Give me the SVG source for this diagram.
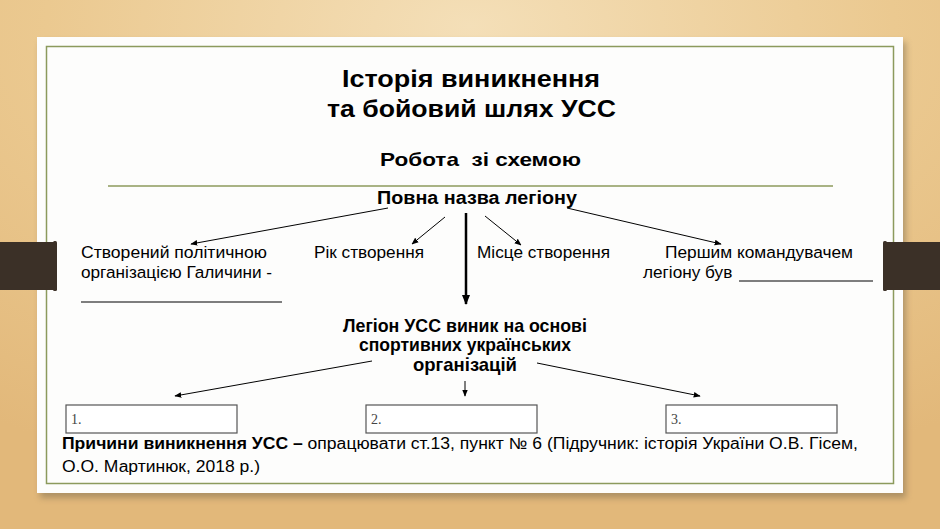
<svg xmlns="http://www.w3.org/2000/svg" width="940" height="529" viewBox="0 0 940 529">
<defs>
<radialGradient id="bg" cx="0.5" cy="0.05" r="0.9">
<stop offset="0" stop-color="#f4dfb8"/>
<stop offset="0.5" stop-color="#ebc990"/>
<stop offset="1" stop-color="#e2b87a"/>
</radialGradient>
<filter id="sh" x="-5%" y="-5%" width="110%" height="115%">
<feGaussianBlur stdDeviation="3"/>
</filter>
<marker id="ah" viewBox="0 0 10 10" refX="9" refY="5" markerWidth="7" markerHeight="7" orient="auto" markerUnits="userSpaceOnUse">
<path d="M0,1 L10,5 L0,9 z" fill="#000"/>
</marker>
<marker id="ahb" viewBox="0 0 10 10" refX="9" refY="5" markerWidth="4" markerHeight="4" orient="auto">
<path d="M0,1 L10,5 L0,9 z" fill="#000"/>
</marker>
</defs>
<style>
.t{font-family:"Liberation Sans",Arial,sans-serif;fill:#000}
.b{font-weight:bold}
.n{font-size:17.2px}
.m{font-size:17.8px}
.c{stroke:#000;stroke-width:1;fill:none;marker-end:url(#ah)}
.box{fill:#fff;stroke:#555;stroke-width:1.2}
.num{font-family:"Liberation Serif",serif;font-size:14px;fill:#444}
</style>
<rect width="940" height="529" fill="url(#bg)"/>
<rect x="40" y="42" width="866" height="456" fill="#7a6a50" opacity="0.5" filter="url(#sh)"/>
<rect x="37" y="37" width="866" height="456" fill="#fdfdfc"/>
<rect x="46.5" y="46.5" width="847" height="437" fill="none" stroke="#8c9a5c" stroke-width="1.5"/>
<g id="bars">
<rect x="0" y="242" width="55" height="48" fill="#3b3027"/>
<rect x="53" y="241" width="4" height="50" rx="1.5" fill="#3b3027"/>
<rect x="885" y="242" width="55" height="48" fill="#3b3027"/>
<rect x="883" y="241" width="4" height="50" rx="1.5" fill="#3b3027"/>
</g>
<g id="title">
<text class="t b" x="342" y="87" font-size="23.5" textLength="258" lengthAdjust="spacingAndGlyphs">Історія виникнення</text>
<text class="t b" x="327" y="117" font-size="23.5" textLength="289" lengthAdjust="spacingAndGlyphs">та бойовий шлях УСС</text>
</g>
<g id="subtitle">
<text class="t b" x="380" y="166" font-size="18.5" textLength="201" lengthAdjust="spacingAndGlyphs" xml:space="preserve">Робота  зі схемою</text>
</g>
<line x1="108" y1="186" x2="833" y2="186" stroke="#8c9a5c" stroke-width="1.3"/>
<g id="root">
<text class="t b" x="377" y="204" font-size="17.5" textLength="200" lengthAdjust="spacingAndGlyphs">Повна назва легіону</text>
</g>
<g id="n1">
<text class="t n" x="81" y="258" textLength="186" lengthAdjust="spacingAndGlyphs">Створений політичною</text>
<text class="t n" x="81" y="278">організацією Галичини -</text>
<line x1="81" y1="302" x2="282" y2="302" stroke="#000" stroke-width="1.2"/>
</g>
<g id="n2"><text class="t n" x="314" y="258">Рік створення</text></g>
<g id="n3"><text class="t n" x="477" y="258">Місце створення</text></g>
<g id="n4">
<text class="t n" x="665" y="258" textLength="188" lengthAdjust="spacingAndGlyphs">Першим командувачем</text>
<text class="t n" x="643" y="278">легіону був</text>
<line x1="739" y1="281" x2="873" y2="281" stroke="#000" stroke-width="1.2"/>
</g>
<g id="mid">
<text class="t b m" x="343" y="332" textLength="244" lengthAdjust="spacingAndGlyphs">Легіон УСС виник на основі</text>
<text class="t b m" x="359" y="351" textLength="212" lengthAdjust="spacingAndGlyphs">спортивних українських</text>
<text class="t b m" x="413" y="371" textLength="104" lengthAdjust="spacingAndGlyphs">організацій</text>
</g>
<g id="box1"><rect class="box" x="66" y="405" width="171" height="28"/><text class="num" x="71" y="424">1.</text></g>
<g id="box2"><rect class="box" x="366" y="405" width="171" height="28"/><text class="num" x="371" y="424">2.</text></g>
<g id="box3"><rect class="box" x="666" y="405" width="171" height="28"/><text class="num" x="671" y="424">3.</text></g>
<g id="note">
<text class="t" x="62" y="449" font-size="16" textLength="796" lengthAdjust="spacingAndGlyphs"><tspan class="b">Причини виникнення УСС –</tspan> опрацювати ст.13, пункт № 6 (Підручник: історія України О.В. Гісем,</text>
<text class="t" x="62" y="472" font-size="16" textLength="198" lengthAdjust="spacingAndGlyphs">О.О. Мартинюк, 2018 р.)</text>
</g>
<g id="connectors">
<line class="c" x1="388" y1="208" x2="191" y2="244"/>
<line class="c" x1="445" y1="217" x2="412" y2="244"/>
<line x1="466" y1="213" x2="466" y2="304" stroke="#000" stroke-width="2.5" marker-end="url(#ahb)"/>
<line class="c" x1="485" y1="216" x2="521" y2="245"/>
<line class="c" x1="567" y1="208" x2="721" y2="244"/>
<line class="c" x1="372" y1="361" x2="175" y2="396"/>
<line class="c" x1="465" y1="381" x2="465" y2="396"/>
<line class="c" x1="537" y1="363" x2="700" y2="396"/>
</g>
</svg>
